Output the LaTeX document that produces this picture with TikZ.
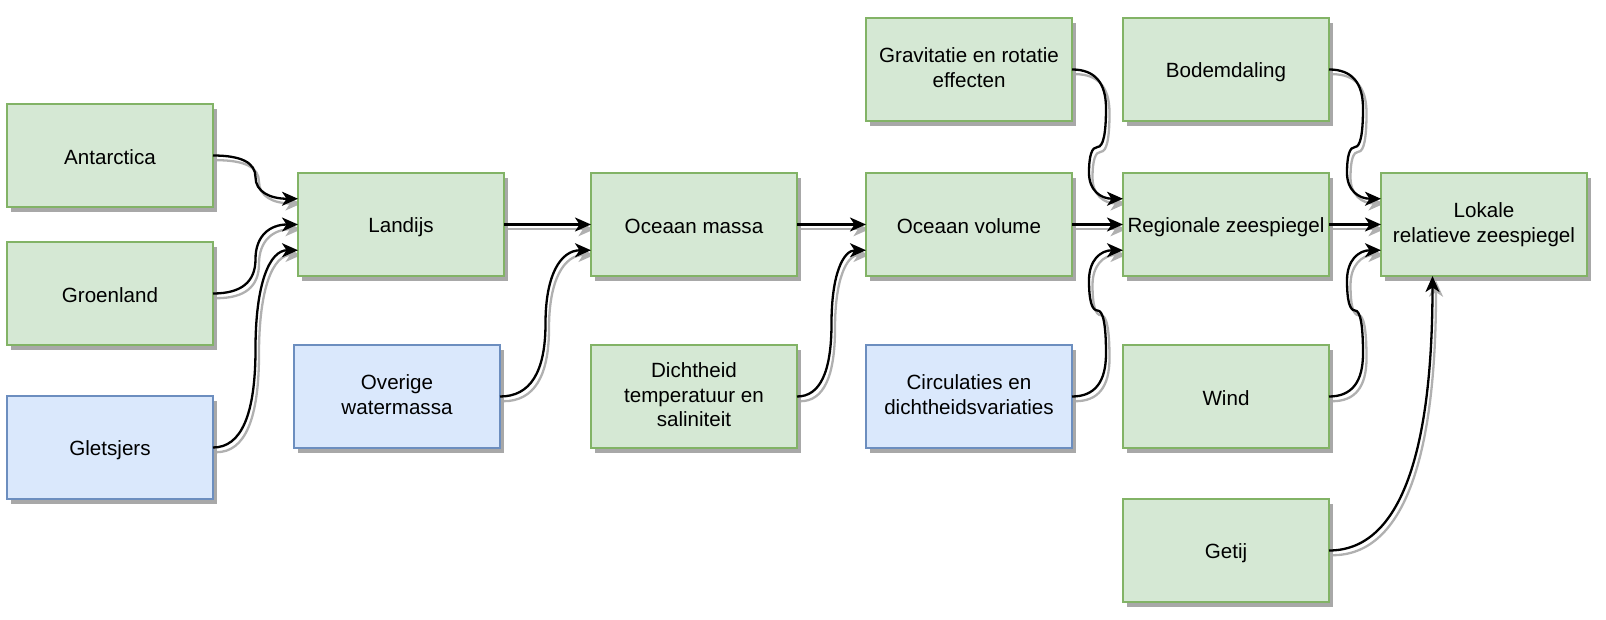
\documentclass[tikz,border=0pt]{standalone}
\usepackage{fontspec}
\setmainfont{Liberation Sans}
\usetikzlibrary{arrows.meta,calc,shadows}
\pgfdeclarelayer{bg}
\pgfsetlayers{bg,main}
\definecolor{gfill}{HTML}{D5E8D4}
\definecolor{gdraw}{HTML}{82B366}
\definecolor{bfill}{HTML}{DAE8FC}
\definecolor{bdraw}{HTML}{6C8EBF}
\definecolor{shd}{HTML}{A8A8A8}
\definecolor{eshd}{HTML}{B0B0B0}
\newcommand\topstrut{\vrule width0pt height1.02em depth0pt\relax}
\newcommand\botstrut{\vrule width0pt height0pt depth0.18em\relax}
\tikzset{
  nbox/.style={rectangle, anchor=north west, minimum width=206pt, minimum height=103pt,
    inner sep=1pt, outer sep=0pt, line width=1.7pt, align=center,
    font=\fontsize{20.6}{24.72}\selectfont,
    execute at begin node=\topstrut, execute at end node=\botstrut,
    drop shadow={shadow xshift=3.5pt, shadow yshift=-5pt, fill=shd, opacity=1}},
  gbox/.style={nbox, fill=gfill, draw=gdraw},
  bbox/.style={nbox, fill=bfill, draw=bdraw},
  conn/.style={line width=2.3pt, draw=black, -{Stealth[length=16pt,width=14pt,inset=4.5pt]}},
  eshadow/.style={conn, draw=eshd}
}
% quadratic segment from #1 with control #2 to #3
\newcommand\qto[3]{.. controls ($(#1)!2/3!(#2)$) and ($(#3)!2/3!(#2)$) .. (#3)}
\newcommand\shadowedge{%
  \begin{pgfonlayer}{bg}
  \begin{scope}[transform canvas={shift={(3.5pt,-4.7pt)}}]
  \draw[eshadow] \conpath;
  \end{scope}
  \end{pgfonlayer}
  \draw[conn] \conpath;}
% S-shaped connector: #1 source, #2 target, #3 id
\newcommand\sconn[3]{%
  \coordinate (#3m) at ($(#1)!0.5!(#2)$);
  \coordinate (#3a) at (#3m |- #1);
  \coordinate (#3b) at (#3m |- #2);
  \def\conpath{(#1) \qto{#1}{#3a}{#3m} \qto{#3m}{#3b}{#2}}%
  \shadowedge}
% connector with jog: #1 source, #2 target, #3 jog-level coordinate, #4 id
\newcommand\jconn[4]{%
  \coordinate (#4p1) at ($(#1)+(34,0)$);
  \coordinate (#4p2) at (#4p1 |- #3);
  \coordinate (#4p4) at ($(#2)+(-34,0)$);
  \coordinate (#4p3) at (#4p4 |- #3);
  \coordinate (#4m1) at ($(#4p1)!0.5!(#4p2)$);
  \coordinate (#4m2) at ($(#4p2)!0.5!(#4p3)$);
  \coordinate (#4m3) at ($(#4p3)!0.5!(#4p4)$);
  \def\conpath{(#1) \qto{#1}{#4p1}{#4m1} \qto{#4m1}{#4p2}{#4m2} \qto{#4m2}{#4p3}{#4m3} \qto{#4m3}{#4p4}{#2}}%
  \shadowedge}
\begin{document}
\begin{tikzpicture}[x=1pt,y=-1pt]
\useasboundingbox (0,0) rectangle (1606,620);
% nodes
\node[gbox] (ant)  at (7,104)   {Antarctica};
\node[gbox] (gro)  at (7,242)   {Groenland};
\node[bbox] (gle)  at (7,396)   {Gletsjers};
\node[gbox] (lan)  at (298,173) {Landijs};
\node[bbox] (ove)  at (294,345) {Overige\\watermassa};
\node[gbox] (om)   at (591,173) {Oceaan massa};
\node[gbox] (dic)  at (591,345) {Dichtheid\\temperatuur en\\saliniteit};
\node[gbox] (grav) at (866,18)  {Gravitatie en rotatie\\effecten};
\node[gbox] (ov)   at (866,173) {Oceaan volume};
\node[bbox] (circ) at (866,345) {Circulaties en\\dichtheidsvariaties};
\node[gbox] (bod)  at (1123,18) {Bodemdaling};
\node[gbox] (reg)  at (1123,173){Regionale zeespiegel};
\node[gbox] (wind) at (1123,345){Wind};
\node[gbox] (get)  at (1123,499){Getij};
\node[gbox] (lok)  at (1381,173){Lokale\\relatieve zeespiegel};
% entry points
\coordinate (lan1) at ($(lan.north west)!0.25!(lan.south west)$);
\coordinate (lan3) at ($(lan.north west)!0.75!(lan.south west)$);
\coordinate (om3)  at ($(om.north west)!0.75!(om.south west)$);
\coordinate (ov3)  at ($(ov.north west)!0.75!(ov.south west)$);
\coordinate (reg1) at ($(reg.north west)!0.25!(reg.south west)$);
\coordinate (reg3) at ($(reg.north west)!0.75!(reg.south west)$);
\coordinate (lok1) at ($(lok.north west)!0.25!(lok.south west)$);
\coordinate (lok3) at ($(lok.north west)!0.75!(lok.south west)$);
\coordinate (lokb) at ($(lok.south west)!0.25!(lok.south east)$);
\coordinate (gj) at ($(grav.south)!0.5!(reg.north)$);
\coordinate (cj) at ($(circ.north)!0.5!(reg.south)$);
\coordinate (bj) at ($(bod.south)!0.5!(lok.north)$);
\coordinate (wj) at ($(wind.north)!0.5!(lok.south)$);
% connectors
\sconn{ant.east}{lan1}{ea}
\sconn{gro.east}{lan.west}{eb}
\sconn{gle.east}{lan3}{ec}
\def\conpath{(lan.east) -- (om.west)}\shadowedge
\sconn{ove.east}{om3}{ed}
\def\conpath{(om.east) -- (ov.west)}\shadowedge
\sconn{dic.east}{ov3}{ee}
\jconn{grav.east}{reg1}{gj}{ef}
\def\conpath{(ov.east) -- (reg.west)}\shadowedge
\jconn{circ.east}{reg3}{cj}{eg}
\jconn{bod.east}{lok1}{bj}{eh}
\def\conpath{(reg.east) -- (lok.west)}\shadowedge
\jconn{wind.east}{lok3}{wj}{ei}
\coordinate (ejc) at (lokb |- get.east);
\def\conpath{(get.east) \qto{get.east}{ejc}{lokb}}\shadowedge
\end{tikzpicture}
\end{document}
